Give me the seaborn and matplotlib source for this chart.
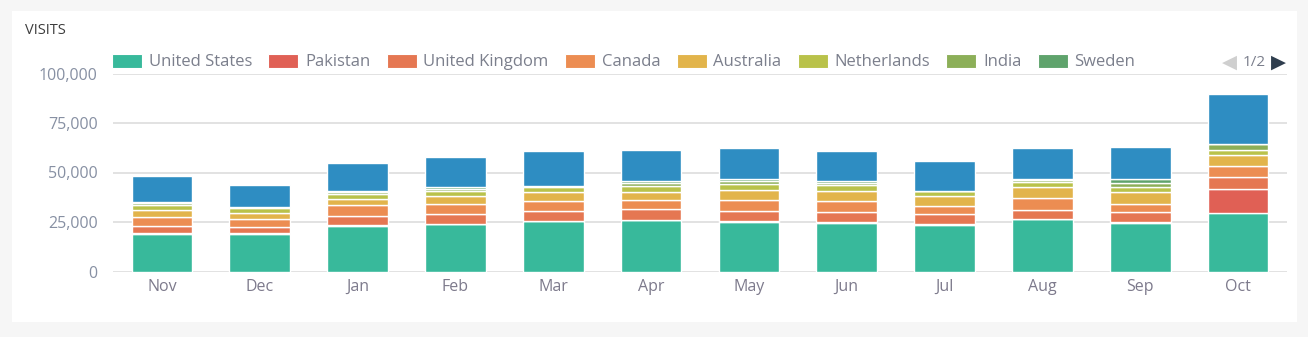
import matplotlib
matplotlib.use("Agg")
import matplotlib.pyplot as plt
from matplotlib.patches import Rectangle, Patch
from matplotlib.ticker import FuncFormatter
import pandas as pd
import seaborn as sns

months = ["Nov", "Dec", "Jan", "Feb", "Mar", "Apr", "May", "Jun", "Jul", "Aug", "Sep", "Oct"]

united_states = [18900, 18900, 23100, 23800, 25300, 25800, 25200, 24600, 23600, 26300, 24700, 29300]
pakistan = [300, 300, 300, 300, 300, 300, 300, 300, 300, 300, 300, 12500]
united_kingdom = [3900, 3300, 4600, 5100, 5000, 5600, 5100, 5000, 5300, 4600, 5100, 5800]
canada = [4300, 3800, 5600, 5000, 5200, 4600, 5500, 5700, 3900, 5700, 4100, 5700]
australia = [3900, 3200, 3100, 3900, 4200, 3600, 5200, 5100, 5000, 5700, 5800, 5400]
netherlands = [2300, 2500, 2600, 2400, 2800, 3300, 3000, 3100, 2700, 2400, 2600, 2900]
india = [800, 400, 800, 1300, 200, 1400, 1400, 1000, 0, 1000, 1900, 2700]
sweden = [700, 300, 700, 1000, 200, 1000, 1200, 900, 0, 900, 2400, 200]
others = [13200, 11200, 13900, 14900, 17600, 16000, 15300, 15100, 15000, 15300, 15900, 24900]

countries = ["United States", "Pakistan", "United Kingdom", "Canada", "Australia",
             "Netherlands", "India", "Sweden", "Others"]
series = [united_states, pakistan, united_kingdom, canada, australia,
          netherlands, india, sweden, others]
colors = ["#38b99b", "#e06055", "#e57752", "#ec8d52", "#e2b44b",
          "#b9c24a", "#8caf58", "#5fa36c", "#2e8dc2"]
palette = dict(zip(countries, colors))

y_ticks = [0, 25000, 50000, 75000, 100000]

rows = []
for name, vals in zip(countries, series):
    for m, v in zip(months, vals):
        rows.append({"month": m, "country": name, "visits": v})
df = pd.DataFrame(rows)
df["month"] = pd.Categorical(df["month"], categories=months, ordered=True)

sns.set_style("white")
plt.rcParams["font.family"] = ["Open Sans", "DejaVu Sans"]

W, H = 1308, 337
fig = plt.figure(figsize=(W / 100, H / 100), dpi=100, facecolor="#f6f6f6")

# white card behind the chart
fig.patches.append(Rectangle((12 / W, 1 - 322 / H), 1285 / W, 311 / H,
                             transform=fig.transFigure, facecolor="white",
                             edgecolor="none", zorder=-5))

left, right = 113 / W, 1287 / W
bottom, top = 1 - 271.5 / H, 1 - 73.5 / H
ax = fig.add_axes([left, bottom, right - left, top - bottom])
ax.set_facecolor("none")

# seaborn stacks hue levels so that the first one ends on top
sns.histplot(data=df, x="month", weights="visits", hue="country",
             hue_order=countries[::-1], palette=palette, multiple="stack",
             discrete=True, shrink=0.62, alpha=1, edgecolor="white",
             linewidth=1.0, legend=False, ax=ax, zorder=3)

ax.set_xlim(-0.5, len(months) - 0.5)
ax.set_ylim(0, 100000)
ax.set_yticks(y_ticks)
ax.yaxis.set_major_formatter(FuncFormatter(lambda v, p: f"{int(v):,}"))
ax.set_xticks(range(len(months)))
ax.set_xticklabels(months)
ax.set_xlabel("")
ax.set_ylabel("")
for s in ax.spines.values():
    s.set_visible(False)
ax.grid(axis="y", color="#e2e2e2", linewidth=1.4, zorder=0)
ax.set_axisbelow(True)
ax.tick_params(axis="y", length=0, pad=11, labelsize=11.5, labelcolor="#8790a3")
ax.tick_params(axis="x", length=0, pad=5.5, labelsize=11.5, labelcolor="#7d7a8c")

# title
fig.text(25 / W, 1 - 30 / H, "VISITS", fontsize=10.5, color="#3d3d3d",
         ha="left", va="center")

# legend (first page)
handles = [Patch(facecolor=palette[c], edgecolor="white", linewidth=0.8)
           for c in countries[:8]]
fig.legend(handles, countries[:8], ncol=8, loc="center left",
           bbox_to_anchor=(112 / W, 1 - 62 / H), bbox_transform=fig.transFigure,
           frameon=False, borderpad=0, borderaxespad=0,
           handlelength=1.8, handleheight=0.9, handletextpad=0.4,
           columnspacing=0.98, labelcolor="#7b7f8c",
           prop={"family": ["Open Sans", "DejaVu Sans"], "size": 12.0})

# legend pager
fig.text(1229 / W, 1 - 62 / H, "\u25C0", fontsize=14, color="#cfcfcf",
         ha="center", va="center", family="DejaVu Sans")
fig.text(1254 / W, 1 - 62 / H, "1/2", fontsize=11, color="#7b7f8c",
         ha="center", va="center")
fig.text(1278 / W, 1 - 62 / H, "\u25B6", fontsize=14, color="#2f3e4e",
         ha="center", va="center", family="DejaVu Sans")

fig.savefig("out.png", dpi=100, facecolor=fig.get_facecolor())
